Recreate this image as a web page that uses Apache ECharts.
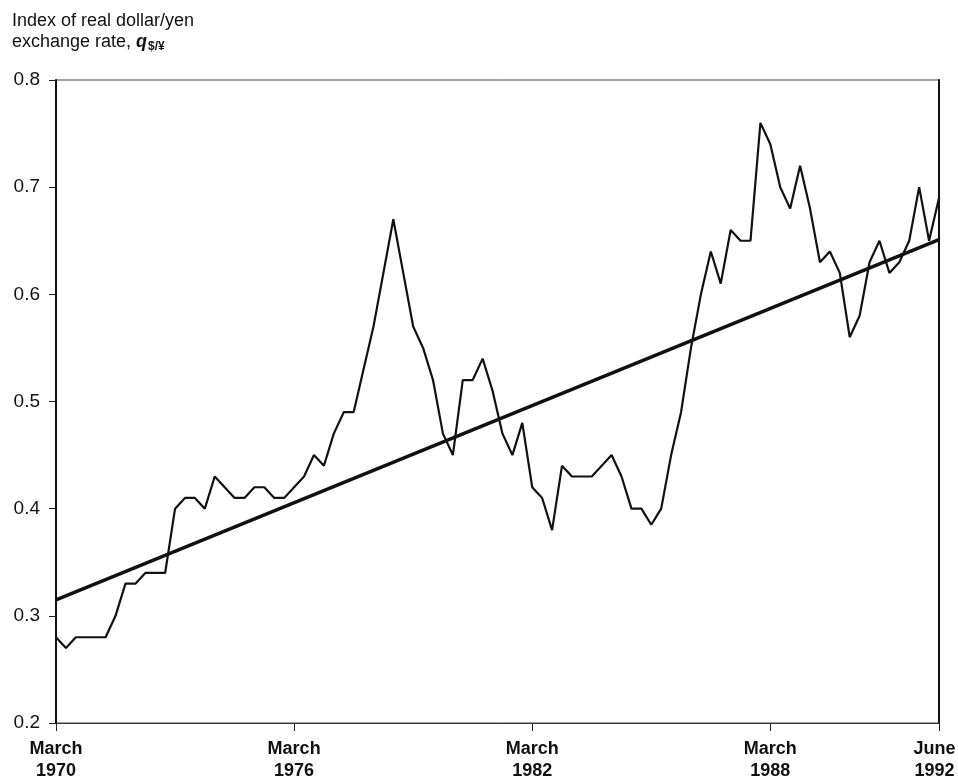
<!DOCTYPE html>
<html>
<head>
<meta charset="utf-8">
<script src="https://cdn.jsdelivr.net/npm/echarts@6/dist/echarts.min.js"></script>
<style>
html,body{margin:0;padding:0;background:#fff;}
#chart{width:958px;height:782px;}
</style>
</head>
<body>
<div id="chart"></div>
<script>
// Quarterly observations, March 1970 .. June 1992 (90 quarters)
const months = ['March', 'June', 'Sept', 'Dec'];
const startYear = 1970;
const realRate = [
  0.28, 0.27, 0.28, 0.28, 0.28, 0.28, 0.30, 0.33, 0.33, 0.34,
  0.34, 0.34, 0.40, 0.41, 0.41, 0.40, 0.43, 0.42, 0.41, 0.41,
  0.42, 0.42, 0.41, 0.41, 0.42, 0.43, 0.45, 0.44, 0.47, 0.49,
  0.49, 0.53, 0.57, 0.62, 0.67, 0.62, 0.57, 0.55, 0.52, 0.47,
  0.45, 0.52, 0.52, 0.54, 0.51, 0.47, 0.45, 0.48, 0.42, 0.41,
  0.38, 0.44, 0.43, 0.43, 0.43, 0.44, 0.45, 0.43, 0.40, 0.40,
  0.385, 0.40, 0.45, 0.49, 0.55, 0.60, 0.64, 0.61, 0.66, 0.65,
  0.65, 0.76, 0.74, 0.70, 0.68, 0.72, 0.68, 0.63, 0.64, 0.62,
  0.56, 0.58, 0.63, 0.65, 0.62, 0.63, 0.65, 0.70, 0.65, 0.69
];
// Linear trend: value at first and last quarter
const trendStart = 0.315;
const trendEnd = 0.651;
// X tick positions (quarter index) and labels
const tickIndex = [0, 24, 48, 72, 89];
const tickMonths = ['March', 'March', 'March', 'March', 'June'];
const tickYears = ['1970', '1976', '1982', '1988', '1992'];
// Y axis ticks
const yMin = 0.2, yMax = 0.8, yStep = 0.1;

const categories = realRate.map((_, i) => months[i % 4] + ' ' + (startYear + Math.floor(i / 4)));
const lastIdx = realRate.length - 1;

const chart = echarts.init(document.getElementById('chart'), null, {renderer: 'canvas'});
const FONT = '"Liberation Sans", Arial, Helvetica, sans-serif';
const isTick = (i) => tickIndex.indexOf(i) >= 0;
const labelStyle = {fontFamily: FONT, fontSize: 18, fontWeight: 'bold', color: '#111', lineHeight: 22};

chart.setOption({
  animation: false,
  backgroundColor: '#ffffff',
  title: {
    left: 12, top: 11, padding: 0,
    text: 'Index of real dollar/yen\nexchange rate, {q|q}{s|$/¥}',
    textStyle: {
      fontFamily: FONT, fontSize: 18, fontWeight: 'normal', color: '#111', lineHeight: 21,
      rich: {
        q: {fontFamily: FONT, fontSize: 18, fontStyle: 'italic', fontWeight: 'bold', color: '#111', lineHeight: 21},
        s: {fontFamily: FONT, fontSize: 12, fontWeight: 'bold', color: '#111', verticalAlign: 'bottom', padding: [7, 0, 0, 1], lineHeight: 21}
      }
    }
  },
  grid: {left: 56, right: 19, top: 80, bottom: 59, show: true, borderColor: '#444', borderWidth: 1,
         containLabel: false, outerBoundsMode: 'none'},
  xAxis: {
    type: 'category',
    data: categories,
    boundaryGap: false,
    axisLine: {show: true, lineStyle: {color: '#333', width: 1}},
    axisTick: {show: true, interval: (i) => isTick(i), length: 8, lineStyle: {color: '#222', width: 1}},
    axisLabel: {
      interval: (i) => isTick(i),
      formatter: (v, i) => {
        const k = tickIndex.indexOf(i);
        if (k < 0) return '';
        const tag = (k === tickIndex.length - 1) ? 'e' : 'n';
        return '{' + tag + '|' + tickMonths[k] + '}\n{' + tag + '|' + tickYears[k] + '}';
      },
      margin: 15,
      color: '#111', fontFamily: FONT, fontSize: 18, fontWeight: 'bold', lineHeight: 22,
      rich: {
        n: Object.assign({}, labelStyle),
        e: Object.assign({}, labelStyle, {padding: [0, 9, 0, 0]})
      },
      showMaxLabel: true, showMinLabel: true
    },
    splitLine: {show: false}
  },
  yAxis: [{
    type: 'value', min: yMin, max: yMax, interval: yStep,
    axisLine: {show: true, lineStyle: {color: '#111', width: 2}},
    axisTick: {show: true, length: 7, lineStyle: {color: '#222', width: 1}},
    axisLabel: {margin: 16, color: '#111', fontFamily: FONT, fontSize: 19, formatter: (v) => v.toFixed(1)},
    splitLine: {show: false}
  }, {
    type: 'value', min: yMin, max: yMax, interval: yStep, position: 'right',
    axisLine: {show: true, lineStyle: {color: '#111', width: 2}},
    axisTick: {show: false}, axisLabel: {show: false}, splitLine: {show: false}
  }],
  series: [{
    name: 'Real dollar/yen', type: 'line', data: realRate, symbol: 'none',
    lineStyle: {color: '#111', width: 2.2}, z: 3
  }, {
    name: 'Trend', type: 'line', data: [[0, trendStart], [lastIdx, trendEnd]], symbol: 'none',
    lineStyle: {color: '#111', width: 3.5}, z: 4
  }]
});
</script>
</body>
</html>
